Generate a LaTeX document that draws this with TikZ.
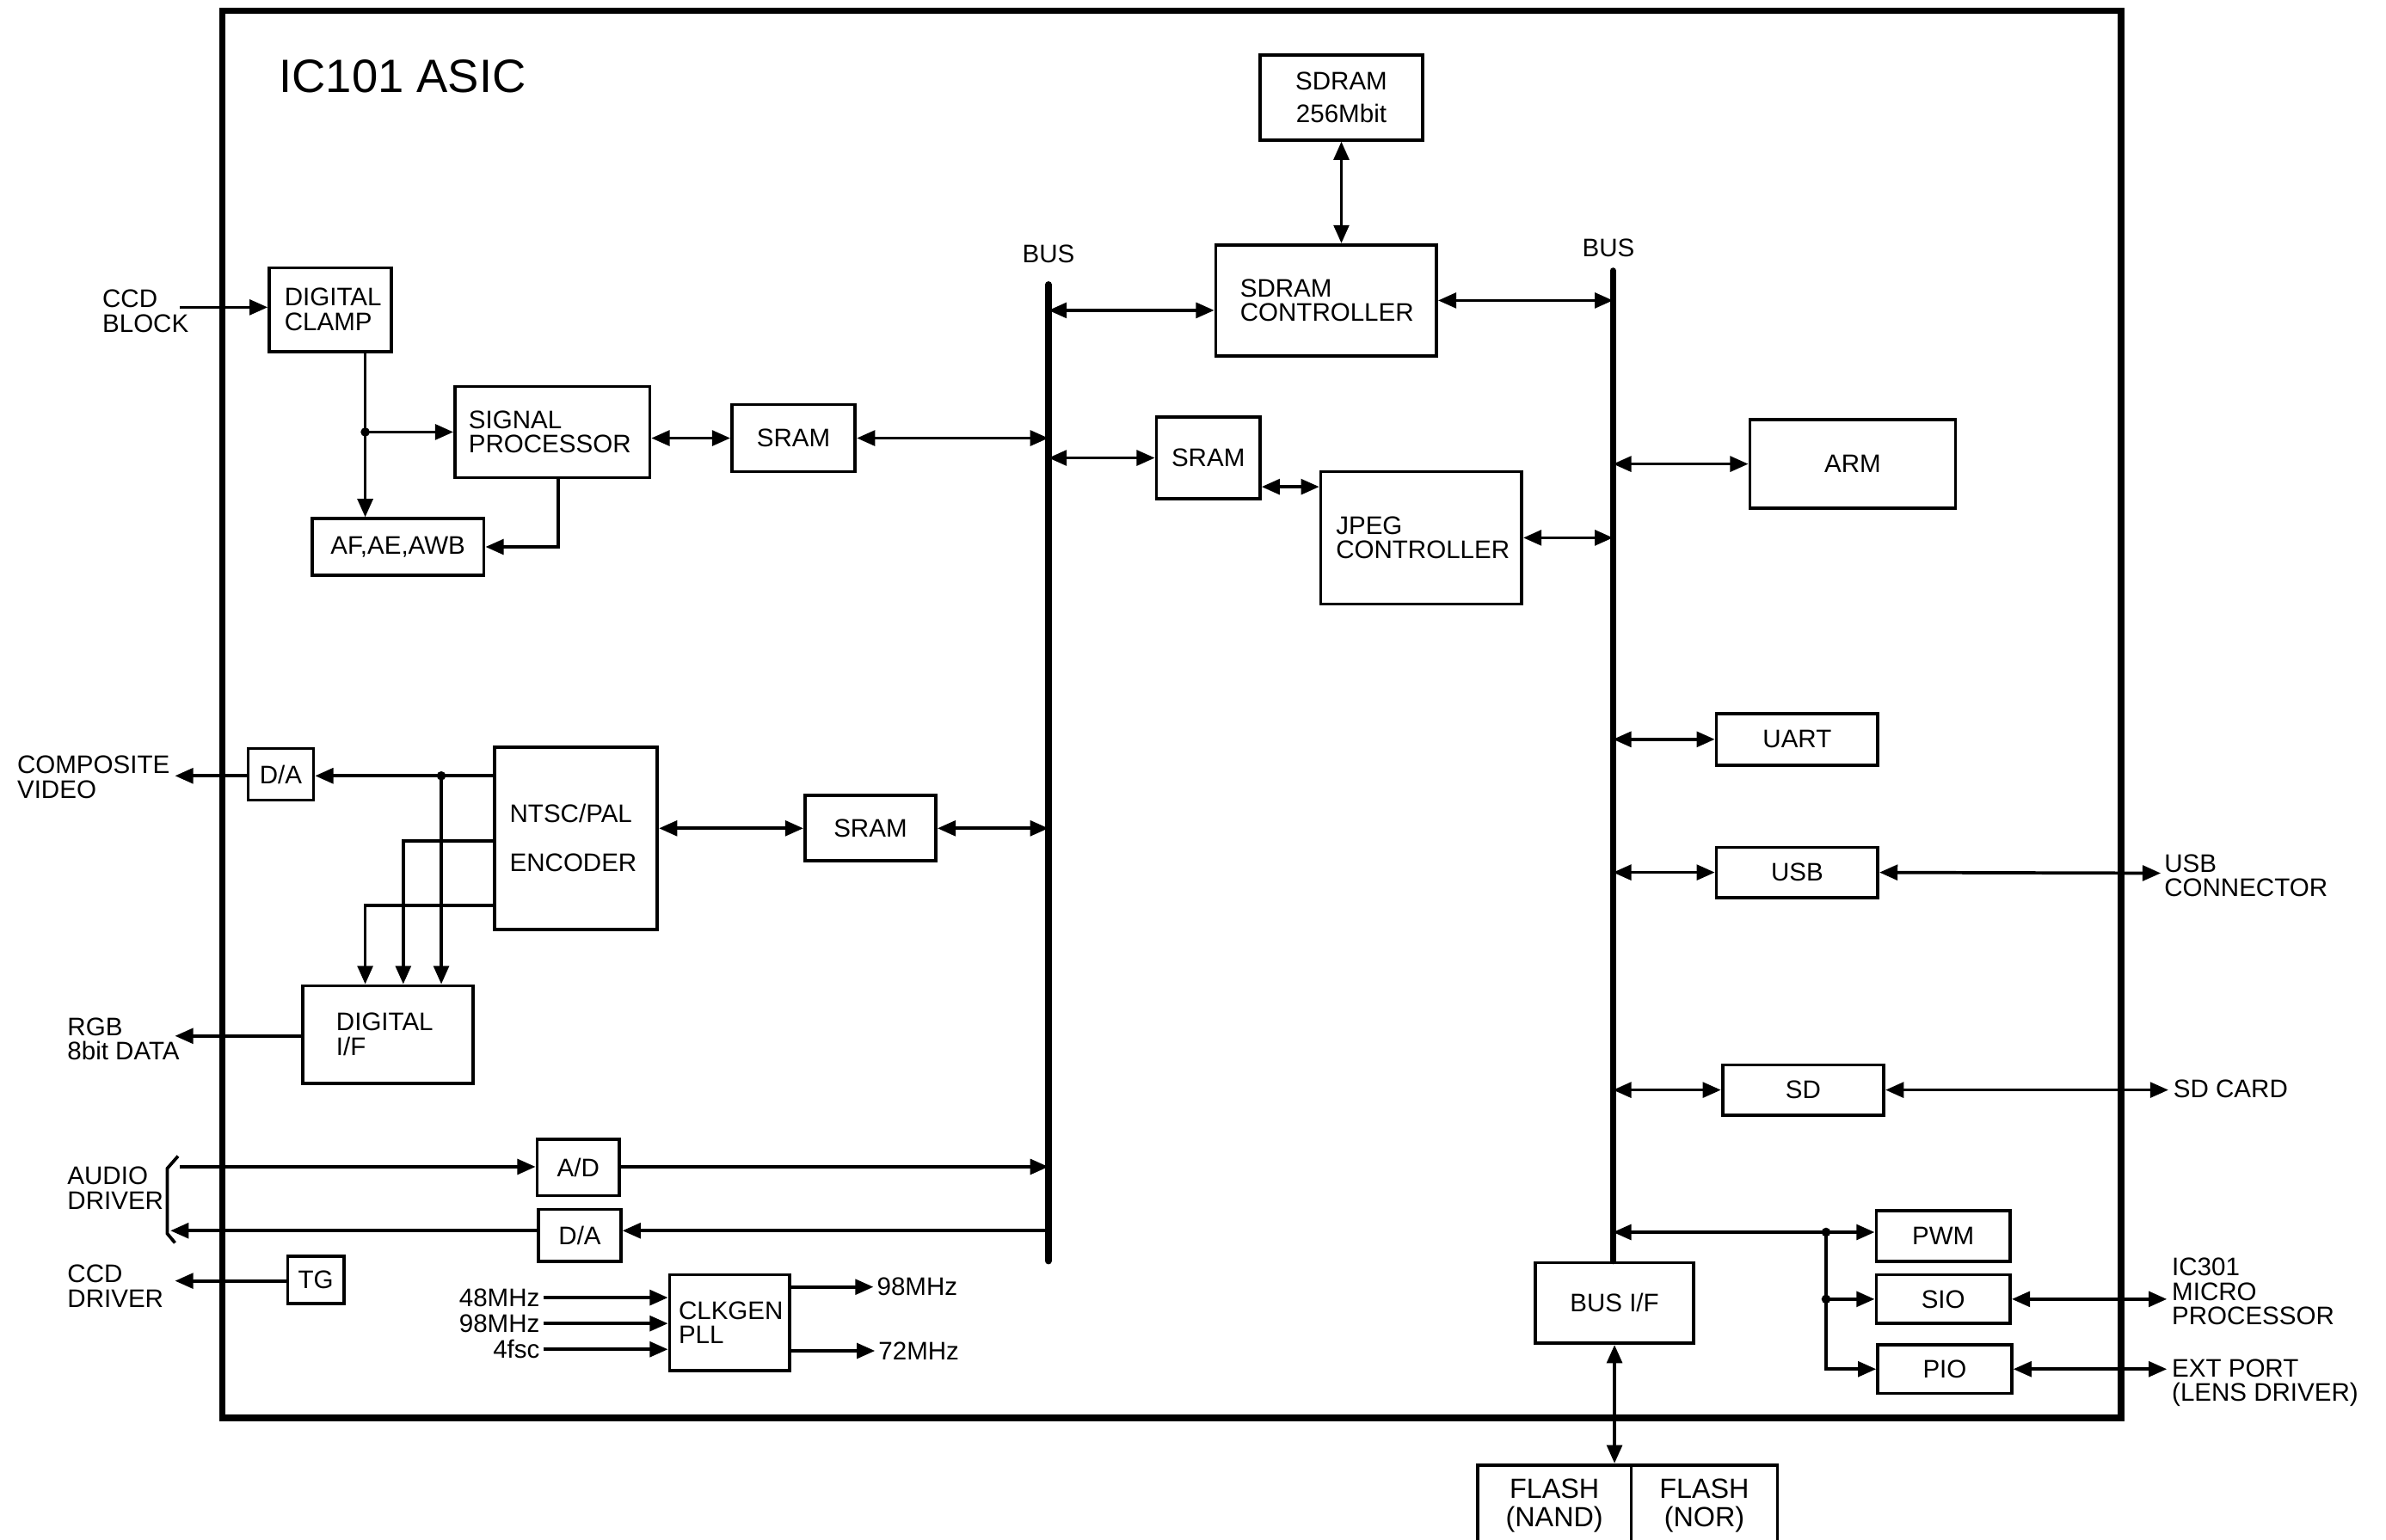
\documentclass[tikz,border=0pt]{standalone}
\usepackage{fontspec}
\setmainfont{Liberation Sans}
\usetikzlibrary{arrows.meta}
\newcommand{\blkfont}{\fontsize{9.5pt}{9.2pt}\selectfont}
\newcommand{\flashfont}{\fontsize{10.4pt}{10.6pt}\selectfont}
\tikzset{
  blk/.style n args={2}{rectangle, draw, line width=1.2pt, inner sep=0pt,
    minimum width=#1*0.02cm, minimum height=#2*0.02cm,
    font=\blkfont, align=center},
  blkL/.code n args={3}{%
    \pgfmathsetlengthmacro\blkTW{(#1-2*#3)*0.02cm}%
    \tikzset{blk={#1}{#2}, align=left, inner xsep=#3*0.02cm,
      text width/.expanded=\blkTW}},
  lbl/.style={font=\blkfont, align=left, inner sep=0pt},
  arr/.style={-{Triangle[length=0.24cm, width=0.2cm]}, line width=1.2pt},
  dbl/.style={{Triangle[length=0.24cm, width=0.2cm]}-{Triangle[length=0.24cm, width=0.2cm]},
    line width=1.2pt},
  wire/.style={line width=1.2pt},
  busln/.style={line width=2.4pt, line cap=round},
}

\begin{document}
\begin{tikzpicture}[x=0.02cm, y=-0.02cm]
  \useasboundingbox (0,0) rectangle (1568,1012);

  % Chip outline and title
  \draw[line width=2.4pt] (146,7) rectangle (1394,932);
  \node[lbl, anchor=west, font=\fontsize{17.5pt}{17.5pt}\selectfont]
       (title) at (183,50) {IC101 ASIC};

  % Blocks
  \node[blkL={80}{55}{10}]   (clamp)   at (217,203.5)  {DIGITAL\\CLAMP};
  \node[blkL={128}{60}{9}]   (sigproc) at (363,284)    {SIGNAL\\PROCESSOR};
  \node[blk={113}{37}]       (aeawb)   at (261.5,359.5) {AF,AE,AWB};
  \node[blk={81}{44}]        (sramA)   at (521.5,288)  {SRAM};
  \node[blk={68}{54}]        (sramB)   at (794,301)    {SRAM};
  \node[blkL={132}{87}{10}]  (jpeg)    at (934,353.5)  {JPEG\\CONTROLLER};
  \node[blkL={145}{73}{16}]  (sdctrl)  at (871.5,197.5) {SDRAM\\CONTROLLER};
  \node[blk={107}{56}]       (sdram)   at (881.5,64)   {SDRAM\\[0.1cm]256Mbit};
  \node[blk={135}{58}]       (arm)     at (1217.5,305) {ARM};
  \node[blk={106}{34}]       (uart)    at (1181,486)   {UART};
  \node[blk={106}{33}]       (usb)     at (1181,573.5) {USB};
  \node[blk={106}{33}]       (sd)      at (1185,716.5) {SD};
  \node[blk={88}{33}]        (pwm)     at (1277,812.5) {PWM};
  \node[blk={88}{32}]        (sio)     at (1277,854)   {SIO};
  \node[blk={88}{32}]        (pio)     at (1278,900)   {PIO};
  \node[blk={104}{53}]       (busif)   at (1061,856.5) {BUS I/F};
  \node[blk={101}{53}, font=\flashfont] (nand) at (1021.5,989.5) {FLASH\\(NAND)};
  \node[blk={96}{53}, font=\flashfont]  (nor)  at (1120,989.5)   {FLASH\\(NOR)};
  \node[blkL={107}{120}{10}] (enc)     at (378.5,551)  {NTSC/PAL\\[0.32cm]ENCODER};
  \node[blk={43}{34}]        (daV)     at (184.5,509)  {D/A};
  \node[blkL={112}{64}{22}]  (digif)   at (255,680)    {DIGITAL\\I/F};
  \node[blk={86}{43}]        (sramC)   at (572,544.5)  {SRAM};
  \node[blk={54}{37}]        (adc)     at (380,767.5)  {A/D};
  \node[blk={54}{34}]        (daA)     at (381,812)    {D/A};
  \node[blk={37}{31}]        (tg)      at (207.5,841.5) {TG};
  \node[blkL={79}{63}{6}]    (clkgen)  at (479.5,869.5) {CLKGEN\\PLL};

  % Buses
  \coordinate (busAt) at (689,187);
  \coordinate (busAb) at (689,829);
  \coordinate (busBt) at (1060,178);
  \draw[busln] (busAt) -- (busAb);
  \draw[busln] (busBt) -- (busBt |- busif.north);
  \node[lbl] (busAlbl) at (689,167) {BUS};
  \node[lbl] (busBlbl) at (1057,163) {BUS};

  % Camera signal path
  \coordinate (ccdin) at (118,202);
  \node[lbl, anchor=west] (ccdlbl) at (67,204.5) {CCD\\BLOCK};
  \draw[arr] (ccdin) -- (clamp.west |- ccdin);
  \coordinate (jA) at (240,284);
  \draw[arr] (jA |- clamp.south) -- (jA |- aeawb.north);
  \fill (jA) circle (0.06cm);
  \draw[arr] (jA) -- (sigproc.west);
  \draw[arr] (367,0 |- sigproc.south) |- (aeawb.east);
  \draw[dbl] (sigproc.east |- sramA.west) -- (sramA.west);
  \draw[dbl] (sramA.east) -- (sramA.east -| busAt);

  % Memory and JPEG
  \draw[dbl] (busAt |- 0,204) -- (sdctrl.west |- 0,204);
  \draw[dbl] (sdctrl.east) -- (sdctrl.east -| busBt);
  \draw[dbl] (sdram.south) -- (sdram.south |- sdctrl.north);
  \draw[dbl] (sramB.west -| busAt) -- (sramB.west);
  \draw[dbl] (sramB.east |- 0,320) -- (jpeg.west |- 0,320);
  \draw[dbl] (jpeg.east) -- (jpeg.east -| busBt);

  % Peripherals on the right bus
  \draw[dbl] (arm.west -| busBt) -- (arm.west);
  \draw[dbl] (uart.west -| busBt) -- (uart.west);
  \draw[dbl] (usb.west -| busBt) -- (usb.west);
  \draw[dbl] (sd.west -| busBt) -- (sd.west);
  \coordinate (usbout) at (1420,574);
  \draw[dbl] (usb.east) -- (usbout);
  \node[lbl, anchor=west] (usblbl) at (1422,575.5) {USB\\CONNECTOR};
  \coordinate (sdout) at (1425,716.5);
  \draw[dbl] (sd.east) -- (sdout);
  \node[lbl, anchor=west] (sdlbl) at (1428,716) {SD CARD};

  \coordinate (jB) at (1200,810);
  \draw[dbl] (busBt |- jB) -- (pwm.west |- jB);
  \fill (jB) circle (0.06cm);
  \draw[arr] (jB |- sio.west) -- (sio.west);
  \fill (jB |- sio.west) circle (0.06cm);
  \draw[arr] (jB) |- (pio.west);
  \coordinate (microout) at (1424,854);
  \draw[dbl] (sio.east) -- (microout);
  \node[lbl, anchor=west] (microlbl) at (1427,849) {IC301\\MICRO\\PROCESSOR};
  \coordinate (extout) at (1424,900);
  \draw[dbl] (pio.east) -- (extout);
  \node[lbl, anchor=west] (extlbl) at (1427,909) {EXT PORT\\(LENS DRIVER)};
  \draw[dbl] (busif.south) -- (busif.south |- nand.north);

  % Video outputs
  \coordinate (jC) at (290,510);
  \draw[arr] (enc.west |- jC) -- (daV.east |- jC);
  \fill (jC) circle (0.06cm);
  \coordinate (compout) at (115,510);
  \draw[arr] (daV.west |- compout) -- (compout);
  \node[lbl, anchor=west] (complbl) at (11,511) {COMPOSITE\\VIDEO};
  \draw[arr] (jC) -- (jC |- digif.north);
  \draw[arr] (enc.west |- 0,553) -| (265,0 |- digif.north);
  \draw[arr] (enc.west |- 0,595) -| (240,0 |- digif.north);
  \coordinate (rgbout) at (115,681);
  \draw[arr] (digif.west |- rgbout) -- (rgbout);
  \node[lbl, anchor=west] (rgblbl) at (44,683) {RGB\\8bit DATA};
  \draw[dbl] (enc.east |- sramC.west) -- (sramC.west);
  \draw[dbl] (sramC.east) -- (sramC.east -| busAt);

  % Audio
  \coordinate (audin) at (118,767);
  \draw[arr] (audin) -- (adc.west |- audin);
  \draw[arr] (adc.east |- audin) -- (busAt |- audin);
  \coordinate (audout) at (112,809);
  \draw[arr] (busAt |- audout) -- (daA.east |- audout);
  \draw[arr] (daA.west |- audout) -- (audout);
  \draw[wire] (117,760) -- (110,768) -- (110,811) -- (115,817);
  \node[lbl, anchor=west] (audlbl) at (44,781) {AUDIO\\DRIVER};

  % Timing generator
  \coordinate (tgout) at (115,842);
  \draw[arr] (tg.west |- tgout) -- (tgout);
  \node[lbl, anchor=west] (tglbl) at (44,845.5) {CCD\\DRIVER};

  % Clock generator
  \node[lbl, anchor=east] (f48)   at (355,853) {48MHz};
  \node[lbl, anchor=east] (f98)   at (355,870) {98MHz};
  \node[lbl, anchor=east] (f4fsc) at (355,887) {4fsc};
  \foreach \f in {f48,f98,f4fsc}
    \draw[arr] ([xshift=0.04cm]\f.east) -- (clkgen.west |- \f.east);
  \node[lbl, anchor=west] (o98lbl) at (576,846) {98MHz};
  \node[lbl, anchor=west] (o72lbl) at (577,888) {72MHz};
  \draw[arr] (clkgen.east |- o98lbl.west) -- ([xshift=-0.04cm]o98lbl.west);
  \draw[arr] (clkgen.east |- o72lbl.west) -- ([xshift=-0.04cm]o72lbl.west);
\end{tikzpicture}
\end{document}
